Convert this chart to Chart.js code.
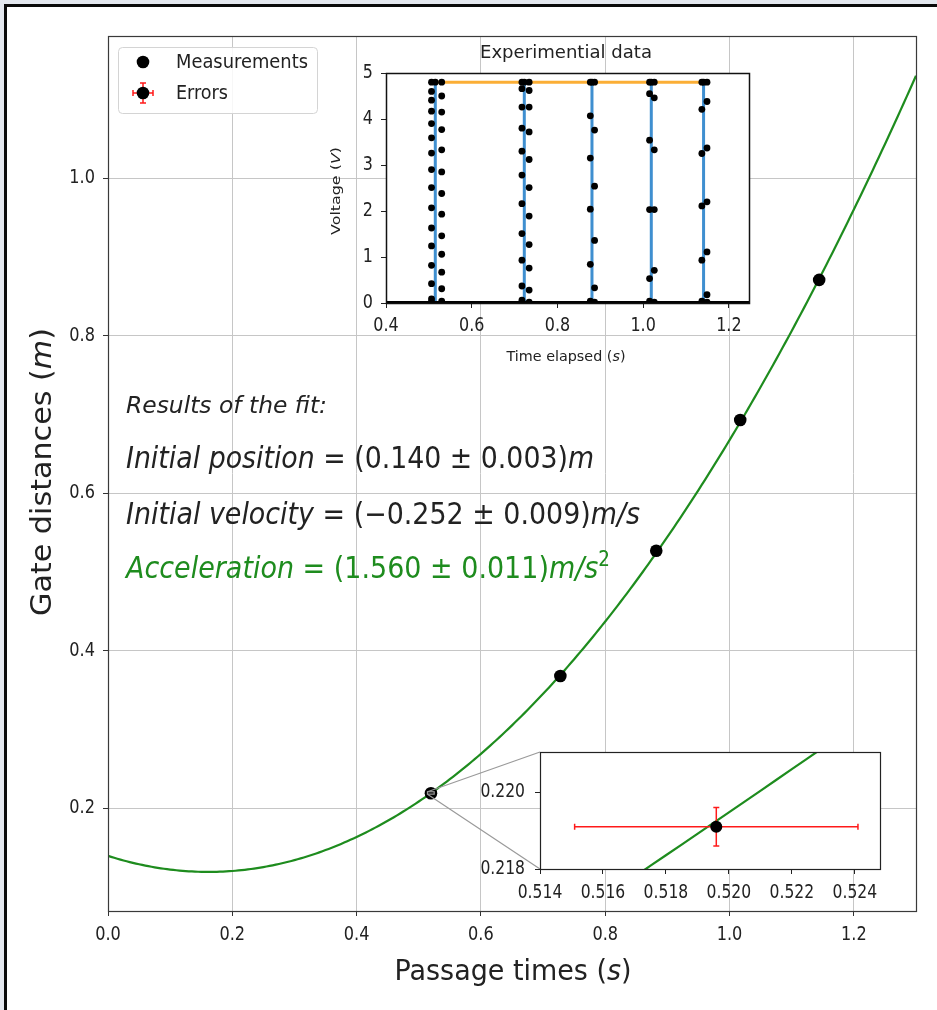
<!DOCTYPE html>
<html lang="en">
<head>
<meta charset="utf-8">
<title>Gate distances vs passage times</title>
<script src="https://cdn.jsdelivr.net/npm/chart.js@4.4.1/dist/chart.umd.min.js"></script>
<style>
  html, body { margin: 0; padding: 0; }
  body { width: 937px; height: 1010px; position: relative; overflow: hidden; background: #e3e7ee; }
  #sheet { position: absolute; left: 4px; top: 4px; width: 960px; height: 1030px; background: #fff;
           border-left: 3px solid #0a0a0a; border-top: 3px solid #0a0a0a; }
  canvas { position: absolute; display: block; }
  #mainChart { left: 0; top: 0; }
  #voltChart { left: 320px; top: 35px; }
  #zoomChart { left: 440px; top: 745px; }
</style>
</head>
<body>
<div id="sheet"></div>
<canvas id="mainChart" width="937" height="1010"></canvas>
<canvas id="voltChart" width="440" height="340"></canvas>
<canvas id="zoomChart" width="450" height="160"></canvas>
<script>
// ---- fitted kinematic model  x(t) = x0 + v0 t + a t^2 / 2 ----
const fitX0 = 0.1396, fitX0Err = 0.003;
const fitV0 = -0.2520, fitV0Err = 0.009;
const fitAcc = 1.560,  fitAccErr = 0.011;

// ---- photogate passages ----
const passageTimes   = [0.5196, 0.7278, 0.8821, 1.0172, 1.1442];
const gateDistances  = [0.2191, 0.3680, 0.5270, 0.6930, 0.8710];
const passageTimeErr = 0.0045;
const gateDistanceErr = 0.0005;

const mainXTicks = [0, 0.2, 0.4, 0.6, 0.8, 1.0, 1.2];
const mainYTicks = [0.2, 0.4, 0.6, 0.8, 1.0];
const mainXRange = [0, 1.3];
const mainYRange = [0.0696, 1.1807];

// ---- raw photogate voltage trace ----
const edgeTimes = [0.5150, 0.7227, 0.8806, 1.0190, 1.1410];
const fallTimes = [0.5062, 0.7172, 0.8767, 1.0150, 1.1370];
const riseTimes = [0.5300, 0.7340, 0.8867, 1.0260, 1.1490];
const highLevel = 4.8;
const lowLevel = 0;
const gate1Fall = [4.80, 4.60, 4.41, 4.17, 3.90, 3.59, 3.26, 2.90, 2.51, 2.07, 1.63, 1.24, 0.82, 0.42, 0.09, 0.03];
const gate1Rise = [4.80, 4.50, 4.15, 3.77, 3.33, 2.85, 2.38, 1.93, 1.46, 1.06, 0.67, 0.31, 0.04];
const gate2Fall = [4.80, 4.66, 4.26, 3.80, 3.30, 2.78, 2.16, 1.51, 0.93, 0.37, 0.06];
const gate2Rise = [4.80, 4.62, 4.26, 3.72, 3.12, 2.51, 1.89, 1.27, 0.76, 0.28, 0.02];
const gate3Fall = [4.80, 4.07, 3.15, 2.04, 0.84, 0.04];
const gate3Rise = [4.80, 3.76, 2.54, 1.36, 0.33, 0.02];
const gate4Fall = [4.80, 4.55, 3.54, 2.03, 0.53, 0.04];
const gate4Rise = [4.80, 4.46, 3.33, 2.03, 0.71, 0.02];
const gate5Fall = [4.80, 4.21, 3.25, 2.11, 0.93, 0.04];
const gate5Rise = [4.80, 4.38, 3.37, 2.20, 1.11, 0.18, 0.02];
const voltXTicks = [0.4, 0.6, 0.8, 1.0, 1.2];
const voltYTicks = [0, 1, 2, 3, 4, 5];
const voltXRange = [0.4, 1.247];
const voltYRange = [0, 5];

// ---- close-up around the first passage ----
const zoomXTicks = [0.514, 0.516, 0.518, 0.520, 0.522, 0.524];
const zoomYTicks = [0.218, 0.220];
const zoomXRange = [0.514, 0.5248];
const zoomYRange = [0.218, 0.22104];

// ---- styling ----
const FONT = '"DejaVu Sans", "Liberation Sans", sans-serif';
const GREEN = '#1e8c1e';
const TEXT = '#222222';
const ZOOM_BOX = { left: 540, top: 752, bottom: 869 };   // page position of the close-up axes

const fitPosition = t => fitX0 + fitV0 * t + 0.5 * fitAcc * t * t;
function sampleFit(t0, t1, n) {
  const pts = [];
  for (let i = 0; i <= n; i++) { const t = t0 + (t1 - t0) * i / n; pts.push({ x: t, y: fitPosition(t) }); }
  return pts;
}
const fmtErr = (v, e) => `(${v.toFixed(3).replace('-', '\u2212')} \u00b1 ${e.toFixed(3)})`;

// text made of runs: [text, italic, sizeFactor, dy]
function drawText(ctx, parts, x, y, o) {
  ctx.save();
  const fontOf = p => `${p[1] ? 'italic ' : ''}${(o.size * (p[2] || 1)).toFixed(1)}px ${FONT}`;
  const ws = parts.map(p => { ctx.font = fontOf(p); return ctx.measureText(p[0]).width; });
  const natural = ws.reduce((a, b) => a + b, 0);
  const sx = o.width ? o.width / natural : (o.sx || 1);
  ctx.translate(x, y);
  if (o.rotate) ctx.rotate(o.rotate);
  ctx.scale(sx, 1);
  let cx = o.align === 'center' ? -natural / 2 : o.align === 'right' ? -natural : 0;
  ctx.fillStyle = o.color || TEXT;
  ctx.textBaseline = o.baseline || 'alphabetic';
  ctx.textAlign = 'left';
  parts.forEach((p, i) => { ctx.font = fontOf(p); ctx.fillText(p[0], cx, p[3] || 0); cx += ws[i]; });
  ctx.restore();
}

function axis(position, range, ticks, size, o) {
  return {
    type: 'linear', position, min: range[0], max: range[1], bounds: 'data',
    afterBuildTicks: sc => { sc.ticks = ticks.map(v => ({ value: v })); },
    afterFit: sc => { if (position === 'bottom') sc.height = size; else sc.width = size; },
    ticks: { display: false },
    grid: { display: true, drawOnChartArea: o.grid, color: o.gridColor || '#c6c6c6', lineWidth: 1,
            drawTicks: true, tickLength: o.tickLength, tickColor: o.tickColor, tickWidth: 1 },
    border: { display: false }
  };
}

function tickLabels(specs) {
  return {
    id: 'tickLabels',
    afterDraw(chart) {
      const ctx = chart.ctx;
      specs.forEach(s => {
        const sc = chart.scales[s.axis];
        sc.ticks.forEach(t => {
          const p = sc.getPixelForValue(t.value);
          const label = s.format(t.value);
          if (sc.isHorizontal()) drawText(ctx, [[label]], p, s.pos, { size: s.size, sx: s.sx, align: 'center', baseline: 'middle' });
          else drawText(ctx, [[label]], s.pos, p, { size: s.size, sx: s.sx, align: 'right', baseline: 'middle' });
        });
      });
    }
  };
}

function axesBox(color, width, fill) {
  return {
    id: 'axesBox',
    beforeDraw(chart) {
      if (!fill) return;
      const a = chart.chartArea, ctx = chart.ctx;
      ctx.save(); ctx.fillStyle = fill; ctx.fillRect(a.left, a.top, a.right - a.left, a.bottom - a.top); ctx.restore();
    },
    afterDatasetsDraw(chart) {
      const a = chart.chartArea, ctx = chart.ctx;
      ctx.save(); ctx.strokeStyle = color; ctx.lineWidth = width;
      ctx.strokeRect(Math.round(a.left) + 0.5, Math.round(a.top) + 0.5, Math.round(a.right - a.left), Math.round(a.bottom - a.top));
      ctx.restore();
    }
  };
}

function errorCross(ctx, x, y, hx0, hx1, vy0, vy1, cap) {
  ctx.save();
  ctx.strokeStyle = '#ff1a1a'; ctx.lineWidth = 1.5;
  ctx.beginPath();
  ctx.moveTo(hx0, y); ctx.lineTo(hx1, y);
  ctx.moveTo(hx0, y - cap); ctx.lineTo(hx0, y + cap);
  ctx.moveTo(hx1, y - cap); ctx.lineTo(hx1, y + cap);
  ctx.moveTo(x, vy0); ctx.lineTo(x, vy1);
  ctx.moveTo(x - cap, vy0); ctx.lineTo(x + cap, vy0);
  ctx.moveTo(x - cap, vy1); ctx.lineTo(x + cap, vy1);
  ctx.stroke();
  ctx.restore();
}

function dot(ctx, x, y, r) {
  ctx.save(); ctx.fillStyle = '#000'; ctx.beginPath(); ctx.arc(x, y, r, 0, Math.PI * 2); ctx.fill(); ctx.restore();
}

const common = {
  responsive: false, animation: false, devicePixelRatio: 1, events: [],
  plugins: { legend: { display: false }, tooltip: { enabled: false } }
};

// ================= main chart =================
const mainDecor = {
  id: 'mainDecor',
  afterDatasetsDraw(chart) {
    const ctx = chart.ctx, xs = chart.scales.x, ys = chart.scales.y;
    // marker of the zoomed region and its connectors
    const rx0 = xs.getPixelForValue(zoomXRange[0]), rx1 = xs.getPixelForValue(zoomXRange[1]);
    const ry0 = ys.getPixelForValue(zoomYRange[1]), ry1 = ys.getPixelForValue(zoomYRange[0]);
    ctx.save();
    ctx.strokeStyle = '#9a9a9a'; ctx.lineWidth = 1.2;
    ctx.strokeRect(rx0, ry0, rx1 - rx0, ry1 - ry0);
    ctx.beginPath();
    ctx.moveTo(rx0, ry0); ctx.lineTo(ZOOM_BOX.left, ZOOM_BOX.top);
    ctx.moveTo(rx0, ry1); ctx.lineTo(ZOOM_BOX.left, ZOOM_BOX.bottom);
    ctx.stroke();
    ctx.restore();
  },
  afterDraw(chart) {
    const ctx = chart.ctx;
    // fit results
    drawText(ctx, [['Results of the fit:', true]], 126, 413, { size: 23, width: 201 });
    drawText(ctx, [['Initial position', true], [' = ' + fmtErr(fitX0, fitX0Err)], ['m', true]], 126, 468, { size: 30, width: 468 });
    drawText(ctx, [['Initial velocity', true], [' = ' + fmtErr(fitV0, fitV0Err)], ['m/s', true]], 126, 524, { size: 30, width: 514 });
    drawText(ctx, [['Acceleration', true], [' = ' + fmtErr(fitAcc, fitAccErr)], ['m/s', true], ['2', false, 0.68, -12]], 126, 578,
             { size: 30, width: 484, color: GREEN });
    // axis titles
    drawText(ctx, [['Passage times ('], ['s', true], [')']], 513, 980, { size: 28, width: 237, align: 'center' });
    drawText(ctx, [['Gate distances ('], ['m', true], [')']], 51, 472, { size: 28, width: 288, align: 'center', rotate: -Math.PI / 2 });
    // legend
    ctx.save();
    const L = 118.5, T = 47.5, W = 199, H = 66, R = 4;
    ctx.beginPath();
    ctx.moveTo(L + R, T); ctx.lineTo(L + W - R, T); ctx.arcTo(L + W, T, L + W, T + R, R);
    ctx.lineTo(L + W, T + H - R); ctx.arcTo(L + W, T + H, L + W - R, T + H, R);
    ctx.lineTo(L + R, T + H); ctx.arcTo(L, T + H, L, T + H - R, R);
    ctx.lineTo(L, T + R); ctx.arcTo(L, T, L + R, T, R); ctx.closePath();
    ctx.fillStyle = 'rgba(255,255,255,0.85)'; ctx.fill();
    ctx.strokeStyle = '#d4d4d4'; ctx.lineWidth = 1; ctx.stroke();
    ctx.restore();
    dot(ctx, 143, 62, 6.3);
    errorCross(ctx, 143, 93, 133, 153, 83, 103, 3);
    dot(ctx, 143, 93, 6.3);
    drawText(ctx, [['Measurements']], 176, 63, { size: 20, width: 132, baseline: 'middle' });
    drawText(ctx, [['Errors']], 176, 94, { size: 20, width: 52, baseline: 'middle' });
  }
};

new Chart(document.getElementById('mainChart'), {
  type: 'scatter',
  data: {
    datasets: [
      { label: 'Measurements', data: passageTimes.map((t, i) => ({ x: t, y: gateDistances[i] })),
        pointRadius: 6.3, pointBackgroundColor: '#000', pointBorderWidth: 0, showLine: false, order: 0 },
      { label: 'Fit', data: sampleFit(mainXRange[0], mainXRange[1], 260), showLine: true,
        borderColor: GREEN, borderWidth: 2.2, pointRadius: 0, tension: 0, order: 1 }
    ]
  },
  options: {
    ...common,
    layout: { padding: { left: 0, top: 36, right: 21, bottom: 0 } },
    scales: {
      x: axis('bottom', mainXRange, mainXTicks, 99, { grid: true, tickLength: 5, tickColor: '#333' }),
      y: axis('left', mainYRange, mainYTicks, 108, { grid: true, tickLength: 5, tickColor: '#333' })
    }
  },
  plugins: [
    axesBox('#3a3a3a', 1.2, null), mainDecor,
    tickLabels([
      { axis: 'x', pos: 935, size: 19, sx: 0.85, format: v => v.toFixed(1) },
      { axis: 'y', pos: 95, size: 19, sx: 0.85, format: v => v.toFixed(1) }
    ])
  ]
});

// ================= voltage trace inset =================
const gateFalls = [gate1Fall, gate2Fall, gate3Fall, gate4Fall, gate5Fall];
const gateRises = [gate1Rise, gate2Rise, gate3Rise, gate4Rise, gate5Rise];
const samplePoints = [];
edgeTimes.forEach((e, i) => {
  gateFalls[i].forEach(v => samplePoints.push({ x: fallTimes[i], y: v }));
  gateRises[i].forEach(v => samplePoints.push({ x: riseTimes[i], y: v }));
  samplePoints.push({ x: e, y: highLevel });
});
const edgeLines = [];
edgeTimes.forEach(e => { edgeLines.push({ x: e, y: lowLevel }, { x: e, y: highLevel }, { x: e, y: null }); });

const voltDecor = {
  id: 'voltDecor',
  afterDraw(chart) {
    const ctx = chart.ctx;
    drawText(ctx, [['Experimential data']], 246, 18, { size: 18, width: 172, align: 'center', baseline: 'middle' });
    drawText(ctx, [['Voltage ('], ['V', true], [')']], 17, 156, { size: 13, width: 88, align: 'center', baseline: 'middle', rotate: -Math.PI / 2 });
    drawText(ctx, [['Time elapsed ('], ['s', true], [')']], 246, 322, { size: 14, width: 119, align: 'center', baseline: 'middle' });
  }
};

new Chart(document.getElementById('voltChart'), {
  type: 'scatter',
  data: {
    datasets: [
      { label: 'samples', data: samplePoints, pointRadius: 3.4, pointBackgroundColor: '#000', pointBorderWidth: 0, showLine: false, order: 0 },
      { label: 'low level', data: [{ x: voltXRange[0], y: lowLevel }, { x: voltXRange[1], y: lowLevel }],
        showLine: true, borderColor: '#000', borderWidth: 4, pointRadius: 0, order: 1 },
      { label: 'edges', data: edgeLines, showLine: true, spanGaps: false, borderColor: '#3f8fd0', borderWidth: 3, pointRadius: 0, order: 2 },
      { label: 'high level', data: [{ x: edgeTimes[0], y: highLevel }, { x: riseTimes[riseTimes.length - 1], y: highLevel }],
        showLine: true, borderColor: '#fbae35', borderWidth: 3, pointRadius: 0, order: 3 }
    ]
  },
  options: {
    ...common,
    layout: { padding: { left: 0, top: 38, right: 11, bottom: 0 } },
    scales: {
      x: axis('bottom', voltXRange, voltXTicks, 72, { grid: false, tickLength: 5, tickColor: '#222' }),
      y: axis('left', voltYRange, voltYTicks, 66, { grid: false, tickLength: 5, tickColor: '#222' })
    }
  },
  plugins: [
    axesBox('#111', 1.5, '#ffffff'), voltDecor,
    tickLabels([
      { axis: 'x', pos: 291, size: 19, sx: 0.84, format: v => v.toFixed(1) },
      { axis: 'y', pos: 53, size: 19, sx: 0.84, format: v => String(v) }
    ])
  ]
});

// ================= close-up inset =================
const errorBars = {
  id: 'errorBars',
  beforeDatasetDraw(chart, args) {
    if (args.index !== 0) return;
    const xs = chart.scales.x, ys = chart.scales.y, a = chart.chartArea, ctx = chart.ctx;
    ctx.save();
    ctx.beginPath(); ctx.rect(a.left, a.top, a.right - a.left, a.bottom - a.top); ctx.clip();
    passageTimes.forEach((t, i) => {
      const d = gateDistances[i];
      errorCross(ctx, xs.getPixelForValue(t), ys.getPixelForValue(d),
        xs.getPixelForValue(t - passageTimeErr), xs.getPixelForValue(t + passageTimeErr),
        ys.getPixelForValue(d + gateDistanceErr), ys.getPixelForValue(d - gateDistanceErr), 3);
    });
    ctx.restore();
  }
};

new Chart(document.getElementById('zoomChart'), {
  type: 'scatter',
  data: {
    datasets: [
      { label: 'Errors', data: passageTimes.map((t, i) => ({ x: t, y: gateDistances[i] })),
        pointRadius: 6, pointBackgroundColor: '#000', pointBorderWidth: 0, showLine: false, order: 0 },
      { label: 'Fit', data: sampleFit(0.512, 0.527, 30), showLine: true,
        borderColor: GREEN, borderWidth: 2.2, pointRadius: 0, tension: 0, order: 1 }
    ]
  },
  options: {
    ...common,
    layout: { padding: { left: 0, top: 7, right: 10, bottom: 0 } },
    scales: {
      x: axis('bottom', zoomXRange, zoomXTicks, 36, { grid: false, tickLength: 5, tickColor: '#222' }),
      y: axis('left', zoomYRange, zoomYTicks, 100, { grid: false, tickLength: 5, tickColor: '#222' })
    }
  },
  plugins: [
    axesBox('#222', 1.2, '#ffffff'), errorBars,
    tickLabels([
      { axis: 'x', pos: 148, size: 19, sx: 0.82, format: v => v.toFixed(3) },
      { axis: 'y', pos: 85, size: 19, sx: 0.82, format: v => v.toFixed(3) }
    ])
  ]
});
</script>
</body>
</html>
